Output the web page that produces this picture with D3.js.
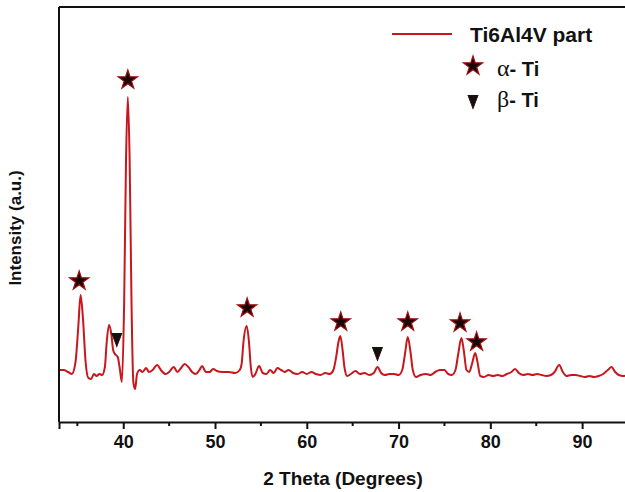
<!DOCTYPE html>
<html>
<head>
<meta charset="utf-8">
<script src="https://cdn.jsdelivr.net/npm/d3@7"></script>
<style>
  body { margin: 0; background: #fff; }
  svg { display: block; font-family: Arial, "Liberation Sans", sans-serif; }
</style>
</head>
<body>
<div id="xrd"></div>
<script>
// diffraction pattern, 2 theta (deg) and intensity (a.u.)
var twoTheta = [33.0, 33.5, 34.0, 34.4, 34.8, 35.1, 35.35, 35.6, 35.9, 36.2, 36.5, 36.8, 37.1, 37.4, 37.7,
  38.0, 38.2, 38.45, 38.7, 38.9, 39.1, 39.4, 39.6, 39.85, 40.1, 40.3, 40.5, 40.7, 40.9, 41.1, 41.3,
  41.5, 41.8, 42.1, 42.5, 42.8, 43.2, 43.7, 44.1, 44.6, 45.0, 45.5, 45.9, 46.3, 46.7, 47.1, 47.5,
  47.9, 48.3, 48.6, 49.0, 49.4, 49.8, 50.2, 50.8, 51.5, 52.2, 52.7, 52.9, 53.1, 53.45, 53.7, 53.9,
  54.1, 54.4, 54.8, 55.2, 55.6, 56.0, 56.4, 56.8, 57.2, 57.6, 58.0, 58.5, 59.0, 59.5, 60.0, 60.5,
  61.0, 61.5, 62.0, 62.5, 62.9, 63.2, 63.45, 63.65, 63.9, 64.1, 64.4, 64.8, 65.3, 65.8, 66.3, 66.8,
  67.3, 67.7, 68.1, 68.5, 69.0, 69.5, 70.0, 70.4, 70.7, 71.0, 71.3, 71.55, 71.9, 72.4, 73.0, 73.5,
  74.0, 74.5, 75.0, 75.4, 75.8, 76.2, 76.5, 76.85, 77.1, 77.4, 77.7, 78.0, 78.35, 78.6, 78.9, 79.3,
  79.8, 80.3, 80.8, 81.3, 81.8, 82.3, 82.7, 83.1, 83.6, 84.1, 84.6, 85.1, 85.6, 86.1, 86.6, 87.0,
  87.5, 87.9, 88.3, 88.8, 89.3, 89.8, 90.3, 90.8, 91.3, 91.8, 92.3, 92.8, 93.2, 93.6, 94.0, 94.5, 95.0];
var intensity = [52, 52, 50, 48, 60, 95, 127, 105, 60, 44, 43, 48, 46, 48, 47,
  55, 80, 97, 88, 72, 68, 65, 55, 40, 120, 260, 325, 260, 120, 40, 33,
  48, 52, 50, 54, 50, 52, 57, 52, 48, 50, 55, 50, 54, 58, 55, 50,
  48, 52, 56, 50, 50, 53, 51, 50, 50, 49, 52, 58, 80, 96, 80, 55,
  45, 48, 56, 49, 48, 52, 49, 54, 52, 50, 52, 49, 48, 50, 48, 50,
  48, 47, 49, 48, 52, 65, 80, 86, 72, 55, 46, 48, 51, 48, 49, 47,
  49, 55, 49, 47, 48, 48, 47, 52, 68, 85, 70, 52, 45, 47, 48, 47,
  50, 52, 52, 48, 47, 52, 68, 84, 72, 52, 50, 58, 69, 60, 46, 45,
  47, 46, 47, 46, 48, 50, 53, 49, 47, 48, 47, 48, 47, 46, 47, 50,
  57, 50, 46, 47, 47, 46, 45, 46, 45, 46, 48, 52, 55, 50, 47, 46, 47];

// phase markers: position and height
var alphaPeaks = [35.2, 40.5, 53.5, 63.7, 71.0, 76.7, 78.5];
var alphaLevel = [141, 342, 114, 100, 100, 99, 80];
var betaPeaks = [39.3, 67.7];
var betaLevel = [84, 70];

var xTicks = [40, 50, 60, 70, 80, 90];
var xMinor = [35, 45, 55, 65, 75, 85];

var margin = {top: 7, right: -3, bottom: 70, left: 59},
    width = 625 - margin.left - margin.right,
    height = 492 - margin.top - margin.bottom;

var lineColor = "#c8161d";

var svg = d3.select("#xrd").append("svg")
    .attr("width", 625)
    .attr("height", 492)
  .append("g")
    .attr("transform", "translate(" + margin.left + "," + margin.top + ")");

var x = d3.scaleLinear().domain([33, 95]).range([0, width]);
var y = d3.scaleLinear().domain([0, 415]).range([height, 0]);

var pts = twoTheta.map(function(t, i) { return {t: t, v: intensity[i]}; });

var line = d3.line()
    .x(function(d) { return x(d.t); })
    .y(function(d) { return y(d.v); })
    .curve(d3.curveMonotoneX);

svg.append("path")
    .datum(pts)
    .attr("fill", "none")
    .attr("stroke", lineColor)
    .attr("stroke-width", 2)
    .attr("d", line);

// frame: left and top, bottom axis
svg.append("line").attr("x1", 0).attr("x2", 0).attr("y1", 0).attr("y2", height)
    .attr("stroke", "#111").attr("stroke-width", 2);
svg.append("line").attr("x1", 0).attr("x2", width).attr("y1", 0).attr("y2", 0)
    .attr("stroke", "#111").attr("stroke-width", 2);

var xAxis = svg.append("g")
    .attr("transform", "translate(0," + height + ")")
    .call(d3.axisBottom(x).tickValues(xTicks).tickSize(7).tickPadding(6).tickFormat(d3.format("d")));
xAxis.select(".domain").attr("stroke", "#111").attr("stroke-width", 2);
xAxis.selectAll(".tick line").attr("stroke", "#111").attr("stroke-width", 2);
xAxis.selectAll(".tick text")
    .attr("fill", "#111")
    .style("font-size", "18px")
    .style("font-weight", "bold");

svg.append("g").selectAll("line")
    .data(xMinor)
  .enter().append("line")
    .attr("x1", function(d) { return x(d); })
    .attr("x2", function(d) { return x(d); })
    .attr("y1", height)
    .attr("y2", height + 4)
    .attr("stroke", "#111")
    .attr("stroke-width", 2);

// axis titles
svg.append("text")
    .attr("x", 343 - margin.left)
    .attr("y", height + 63)
    .attr("text-anchor", "middle")
    .style("font-size", "19px")
    .style("font-weight", "bold")
    .attr("fill", "#111")
    .text("2 Theta (Degrees)");

svg.append("text")
    .attr("transform", "translate(-38," + (228 - margin.top) + ") rotate(-90)")
    .attr("text-anchor", "middle")
    .style("font-size", "17px")
    .style("font-weight", "bold")
    .attr("fill", "#111")
    .text("Intensity (a.u.)");

// markers
var star = d3.symbol().type(d3.symbolStar).size(115);
var tri = d3.symbol().type(d3.symbolTriangle).size(60);

svg.selectAll(".alpha")
    .data(alphaPeaks)
  .enter().append("path")
    .attr("class", "alpha")
    .attr("d", star)
    .attr("transform", function(d, i) { return "translate(" + x(d) + "," + y(alphaLevel[i]) + ")"; })
    .attr("fill", "#1a0505")
    .attr("stroke", "#a01010")
    .attr("stroke-width", 1.2);

svg.selectAll(".beta")
    .data(betaPeaks)
  .enter().append("path")
    .attr("class", "beta")
    .attr("d", tri)
    .attr("transform", function(d, i) { return "translate(" + x(d) + "," + y(betaLevel[i]) + ") rotate(180) scale(0.85,1.3)"; })
    .attr("fill", "#111")
    .attr("stroke", "#3a0000")
    .attr("stroke-width", 0.8);

// legend
var lg = svg.append("g").attr("transform", "translate(" + (392 - margin.left) + "," + (34 - margin.top) + ")");
lg.append("line").attr("x1", 0).attr("x2", 60).attr("y1", 0).attr("y2", 0)
    .attr("stroke", lineColor).attr("stroke-width", 2);
lg.append("text").attr("x", 78).attr("y", 8)
    .style("font-size", "21px").style("font-weight", "bold").attr("fill", "#111")
    .text("Ti6Al4V part");
lg.append("path").attr("d", star).attr("transform", "translate(81,32)")
    .attr("fill", "#1a0505").attr("stroke", "#a01010").attr("stroke-width", 1.2);
var ta = lg.append("text").attr("x", 105).attr("y", 42)
    .style("font-size", "20px").style("font-weight", "bold").attr("fill", "#111");
ta.append("tspan").style("font-family", "'Liberation Serif', 'DejaVu Serif', serif").style("font-weight", "normal").style("font-size", "24px").text("α");
ta.append("tspan").text("- Ti");
lg.append("path").attr("d", tri).attr("transform", "translate(81,66) rotate(180) scale(0.85,1.3)")
    .attr("fill", "#111").attr("stroke", "#3a0000").attr("stroke-width", 0.8);
var tb = lg.append("text").attr("x", 105).attr("y", 73)
    .style("font-size", "20px").style("font-weight", "bold").attr("fill", "#111");
tb.append("tspan").style("font-family", "'Liberation Serif', 'DejaVu Serif', serif").style("font-weight", "normal").style("font-size", "24px").text("β");
tb.append("tspan").text("- Ti");
</script>
</body>
</html>
